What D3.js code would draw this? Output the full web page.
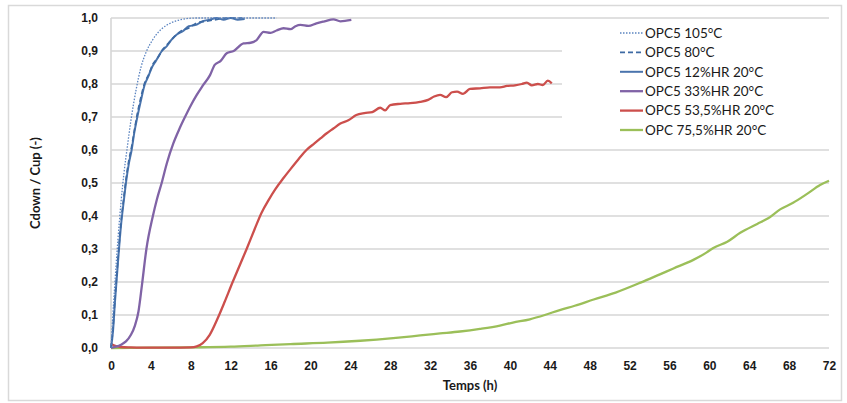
<!DOCTYPE html>
<html>
<head>
<meta charset="utf-8">
<script src="https://cdn.jsdelivr.net/npm/d3@7"></script>
<style>
  body { margin: 0; background: #fff; }
  svg { display: block; font-family: Lato, "Open Sans", sans-serif; }
</style>
</head>
<body>
<div class="canvas"></div>
<script>
// tick labels
const xTicks = [0, 4, 8, 12, 16, 20, 24, 28, 32, 36, 40, 44, 48, 52, 56, 60, 64, 68, 72];
const yTicks = [0, 0.1, 0.2, 0.3, 0.4, 0.5, 0.6, 0.7, 0.8, 0.9, 1.0];

const seriesNames = ['OPC5 105°C', 'OPC5 80°C', 'OPC5 12%HR 20°C', 'OPC5 33%HR 20°C', 'OPC5 53,5%HR 20°C', 'OPC 75,5%HR 20°C'];

// [temps (h), Cdown/Cup]
const opc5_105 = [[0,0],[0.15,0.08],[0.4,0.2],[0.7,0.33],[1.0,0.44],[1.3,0.53],[1.64,0.61],[2.0,0.69],[2.5,0.78],[3.0,0.85],[3.5,0.895],[4.2,0.935],[5,0.965],[6,0.985],[7,0.995],[8.5,1.0],[12,1.0],[16.6,1.0]];

const opc5_80 = [[0,0],[0.2,0.06],[0.4,0.15],[0.7,0.27],[1.0,0.38],[1.3,0.46],[1.5,0.51],[1.8,0.57],[2.07,0.61],[2.35,0.66],[2.64,0.71],[3.0,0.76],[3.4,0.805],[3.8,0.83],[4.2,0.86],[4.7,0.88],[5.2,0.905],[5.8,0.925],[6.4,0.945],[7.0,0.96],[7.8,0.97],[8.6,0.985],[9.5,0.99],[10.5,0.995],[11.5,1.0],[12.5,1.0],[13.2,1.0]];

const opc5_12 = [[0,0],[0.2,0.05],[0.4,0.14],[0.7,0.26],[1.0,0.37],[1.3,0.45],[1.5,0.5],[1.8,0.56],[2.07,0.6],[2.35,0.655],[2.64,0.7],[3.0,0.75],[3.4,0.8],[3.7,0.82],[4.1,0.85],[4.5,0.87],[5.1,0.9],[5.6,0.915],[6.1,0.935],[6.6,0.95],[7.2,0.96],[7.8,0.975],[8.6,0.98],[9.2,0.99],[9.9,0.995],[10.6,1.0],[11.3,0.995],[12,1.0],[12.7,0.995],[13.4,0.997]];

const opc5_33 = [[0,0],[0.5,0.004],[1.0,0.01],[1.5,0.02],[2.0,0.04],[2.4,0.068],[2.75,0.11],[3.1,0.19],[3.55,0.3],[4.2,0.4],[4.6,0.45],[5.08,0.5],[5.6,0.56],[6.25,0.62],[6.8,0.66],[7.42,0.7],[8.0,0.735],[8.6,0.767],[9.2,0.795],[9.93,0.827],[10.4,0.858],[11.0,0.87],[11.6,0.893],[12.3,0.9],[13.3,0.923],[14.0,0.925],[14.6,0.933],[15.3,0.958],[16.0,0.955],[16.6,0.962],[17.3,0.969],[18.0,0.966],[18.5,0.975],[19.0,0.979],[19.8,0.976],[20.6,0.984],[21.4,0.99],[22.3,0.996],[23.0,0.99],[24.1,0.994]];

const opc5_535 = [[0,0.012],[0.5,0.006],[1,0.003],[2,0.002],[4,0.001],[6,0.001],[8,0.002],[8.6,0.005],[9.2,0.015],[9.9,0.04],[10.7,0.09],[11.4,0.14],[12.2,0.2],[12.9,0.25],[13.6,0.3],[14.4,0.36],[15.1,0.41],[15.8,0.448],[16.5,0.482],[17.3,0.515],[18.0,0.542],[18.8,0.572],[19.6,0.6],[20.4,0.62],[21.0,0.635],[21.6,0.65],[22.3,0.665],[23.0,0.68],[23.8,0.69],[24.6,0.706],[25.4,0.712],[26.2,0.715],[27,0.728],[27.5,0.72],[28,0.736],[29,0.74],[30,0.742],[31,0.746],[31.8,0.752],[32.4,0.762],[33,0.767],[33.6,0.76],[34.2,0.775],[34.7,0.777],[35.3,0.77],[36,0.785],[37,0.787],[38,0.79],[39,0.79],[39.7,0.794],[40.5,0.796],[41.2,0.8],[41.7,0.804],[42.2,0.796],[42.8,0.8],[43.3,0.797],[43.8,0.81],[44.2,0.802]];

const opc_755 = [[0,0],[4,0.001],[8,0.002],[12,0.004],[15,0.008],[18,0.012],[21.7,0.016],[25,0.022],[28.3,0.03],[31,0.038],[33,0.044],[35,0.05],[37,0.058],[39,0.068],[40.3,0.077],[42,0.087],[43.5,0.1],[45,0.115],[46.5,0.128],[48.4,0.147],[50.6,0.168],[53.1,0.198],[55.1,0.224],[56.4,0.241],[58.4,0.267],[59.7,0.289],[60.4,0.303],[61.8,0.322],[63.1,0.349],[64.8,0.376],[65.9,0.393],[67.1,0.42],[68.4,0.44],[69.8,0.467],[71.1,0.494],[72,0.507]];

const width = 847, height = 403;
const margin = { top: 18, right: 18, bottom: 55, left: 111 };
const graphWidth = width - margin.left - margin.right;
const graphHeight = height - margin.top - margin.bottom;

const svg = d3.select('.canvas')
    .append('svg')
    .attr('width', width)
    .attr('height', height);

// outer frame
svg.append('rect')
    .attr('x', 8.5).attr('y', 5.5)
    .attr('width', 833).attr('height', 395)
    .attr('fill', 'none')
    .attr('stroke', '#d9d9d9')
    .attr('stroke-width', 1.5);

const graph = svg.append('g')
    .attr('transform', `translate(${margin.left},${margin.top})`);

//scales
const x = d3.scaleLinear().domain([0, 72]).range([0, graphWidth]);
const y = d3.scaleLinear().domain([0, 1]).range([graphHeight, 0]);

// gridlines
graph.append('g')
    .selectAll('line')
    .data(yTicks)
    .enter().append('line')
    .attr('x1', 0).attr('x2', graphWidth)
    .attr('y1', d => y(d)).attr('y2', d => y(d))
    .attr('stroke', '#d6d6d6')
    .attr('stroke-width', 1.6);

graph.append('line')
    .attr('x1', 0).attr('x2', 0)
    .attr('y1', 0).attr('y2', graphHeight)
    .attr('stroke', '#d6d6d6')
    .attr('stroke-width', 1.6);

// axes
const comma = d => d3.format('.1f')(d).replace('.', ',');
const yAxis = d3.axisLeft(y).tickValues(yTicks).tickFormat(comma).tickSize(0).tickPadding(13);
const xAxis = d3.axisBottom(x).tickValues(xTicks).tickSize(0).tickPadding(13);

const yAxisGroup = graph.append('g').call(yAxis);
const xAxisGroup = graph.append('g').attr('transform', `translate(0,${graphHeight})`).call(xAxis);

[xAxisGroup, yAxisGroup].forEach(g => {
    g.select('.domain').remove();
    g.selectAll('text')
        .attr('fill', '#1a1a1a')
        .style('font-size', '12px')
        .style('font-weight', 'bold');
});

// axis titles
svg.append('text')
    .attr('x', 470).attr('y', 390)
    .attr('text-anchor', 'middle')
    .style('font-size', '13px')
    .style('font-weight', 'bold')
    .attr('fill', '#1a1a1a')
    .text('Temps (h)');

svg.append('text')
    .attr('transform', 'translate(40,183) rotate(-90)')
    .attr('text-anchor', 'middle')
    .style('font-size', '13px')
    .style('font-weight', 'bold')
    .attr('fill', '#1a1a1a')
    .text('Cdown / Cup (-)');

// series
const series = [
    { name: seriesNames[0], data: opc5_105, color: '#5b84c0', width: 1.3, dash: '1.5,1.5' },
    { name: seriesNames[1], data: opc5_80, color: '#3d6aa3', width: 1.7, dash: '5,3' },
    { name: seriesNames[2], data: opc5_12, color: '#4a74ad', width: 2, dash: null },
    { name: seriesNames[3], data: opc5_33, color: '#8063a6', width: 2.3, dash: null },
    { name: seriesNames[4], data: opc5_535, color: '#cc4f4c', width: 2.3, dash: null },
    { name: seriesNames[5], data: opc_755, color: '#9bbf59', width: 2.3, dash: null }
];

const line = d3.line()
    .x(d => x(d[0]))
    .y(d => y(d[1]))
    .curve(d3.curveMonotoneX);

graph.selectAll('path.series')
    .data(series.slice().reverse())
    .enter().append('path')
    .attr('class', 'series')
    .attr('fill', 'none')
    .attr('stroke', d => d.color)
    .attr('stroke-width', d => d.width)
    .attr('stroke-dasharray', d => d.dash)
    .attr('stroke-linejoin', 'round')
    .attr('d', d => line(d.data));

// legend
const legend = svg.append('g');
legend.append('rect')
    .attr('x', 562).attr('y', 21)
    .attr('width', 270).attr('height', 126)
    .attr('fill', '#fff');

const items = legend.selectAll('g.item')
    .data(series)
    .enter().append('g')
    .attr('class', 'item')
    .attr('transform', (d, i) => `translate(620,${33 + i * 19.4})`);

items.append('line')
    .attr('x1', 0).attr('x2', 23)
    .attr('stroke', d => d.color)
    .attr('stroke-width', d => d.width)
    .attr('stroke-dasharray', d => d.dash);

items.append('text')
    .attr('x', 25)
    .attr('dy', '0.35em')
    .style('font-size', '13.5px')
    .attr('fill', '#1a1a1a')
    .text(d => d.name);
</script>
</body>
</html>
